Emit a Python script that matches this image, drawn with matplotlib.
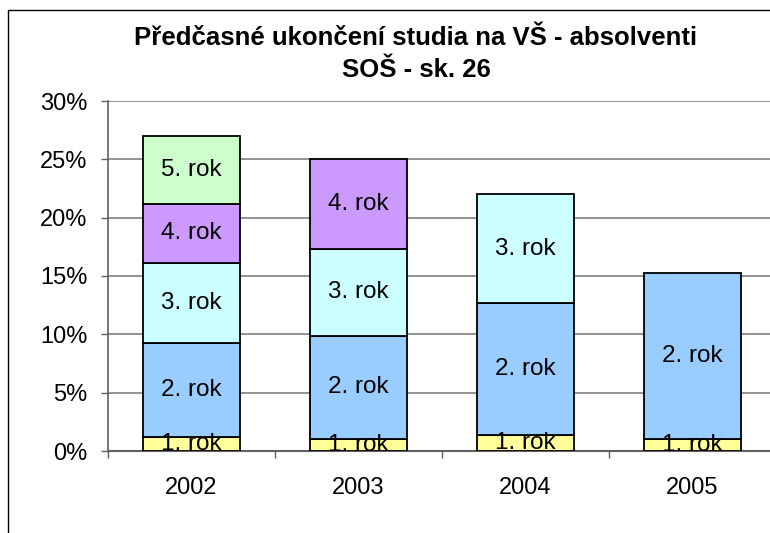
import matplotlib
matplotlib.use('Agg')
import matplotlib.pyplot as plt
from matplotlib.patches import Rectangle
import numpy as np

plt.rcParams['font.family'] = ['Liberation Sans', 'DejaVu Sans']

# data (percent)
years = ['2002', '2003', '2004', '2005']
rok1 = [1.2, 1.0, 1.4, 1.0]
rok2 = [8.1, 8.9, 11.3, 14.3]
rok3 = [6.8, 7.4, 9.3, None]
rok4 = [5.1, 7.7, None, None]
rok5 = [5.8, None, None, None]

series = [rok1, rok2, rok3, rok4, rok5]
names = ['1. rok', '2. rok', '3. rok', '4. rok', '5. rok']
colors = ['#FFFF99', '#99CCFF', '#CCFFFF', '#CC99FF', '#CCFFCC']

fig = plt.figure(figsize=(7.7, 5.33), dpi=100)
ax = fig.add_axes([108 / 770, 1 - 451 / 533, 668 / 770, 350 / 533])

x = np.arange(len(years))
bottom = np.zeros(len(years))
for vals, name, col in zip(series, names, colors):
    for i, v in enumerate(vals):
        if v is None:
            continue
        ax.bar(x[i], v, width=0.58, bottom=bottom[i], color=col,
               edgecolor='black', linewidth=1.3, zorder=3)
        ax.text(x[i], bottom[i] + v / 2, name, ha='center', va='center',
                fontsize=17.5, zorder=4, clip_on=True)
        bottom[i] += v

ax.set_xlim(-0.5, 3.5)
ax.set_ylim(0, 30)
ax.set_yticks(np.arange(0, 31, 5))
ax.set_yticklabels([f'{v}%' for v in range(0, 31, 5)], fontsize=17)
ax.set_xticks(x)
ax.set_xticklabels(years, fontsize=17)
ax.set_xticks(np.arange(-0.5, 4, 1), minor=True)
ax.tick_params(axis='x', which='major', length=0, pad=18.5)
ax.tick_params(axis='x', which='minor', length=5, width=1, color='#606060', direction='out')
ax.tick_params(axis='y', length=5, width=1, color='#606060', pad=10, direction='out')

ax.yaxis.grid(True, color='#808080', linewidth=1.2, zorder=0)
ax.set_axisbelow(True)
for s in ['top', 'right']:
    ax.spines[s].set_visible(False)
ax.spines['left'].set_color('#606060')
ax.spines['bottom'].set_color('#606060')
ax.spines['left'].set_linewidth(1.2)
ax.spines['bottom'].set_linewidth(1.5)

# title, two lines
fig.text(416 / 770, 1 - 45 / 533, 'Předčasné ukončení studia na VŠ - absolventi',
         ha='center', va='baseline', fontsize=18.5, fontweight='bold')
fig.text(416 / 770, 1 - 77 / 533, 'SOŠ - sk. 26',
         ha='center', va='baseline', fontsize=18.5, fontweight='bold')

# outer chart border (continues past the crop)
fig.patches.append(Rectangle((8 / 770, -0.5), 2, 0.5 + 1 - 10 / 533, fill=False,
                             edgecolor='black', linewidth=1,
                             transform=fig.transFigure))

fig.savefig('out.png', dpi=100)
